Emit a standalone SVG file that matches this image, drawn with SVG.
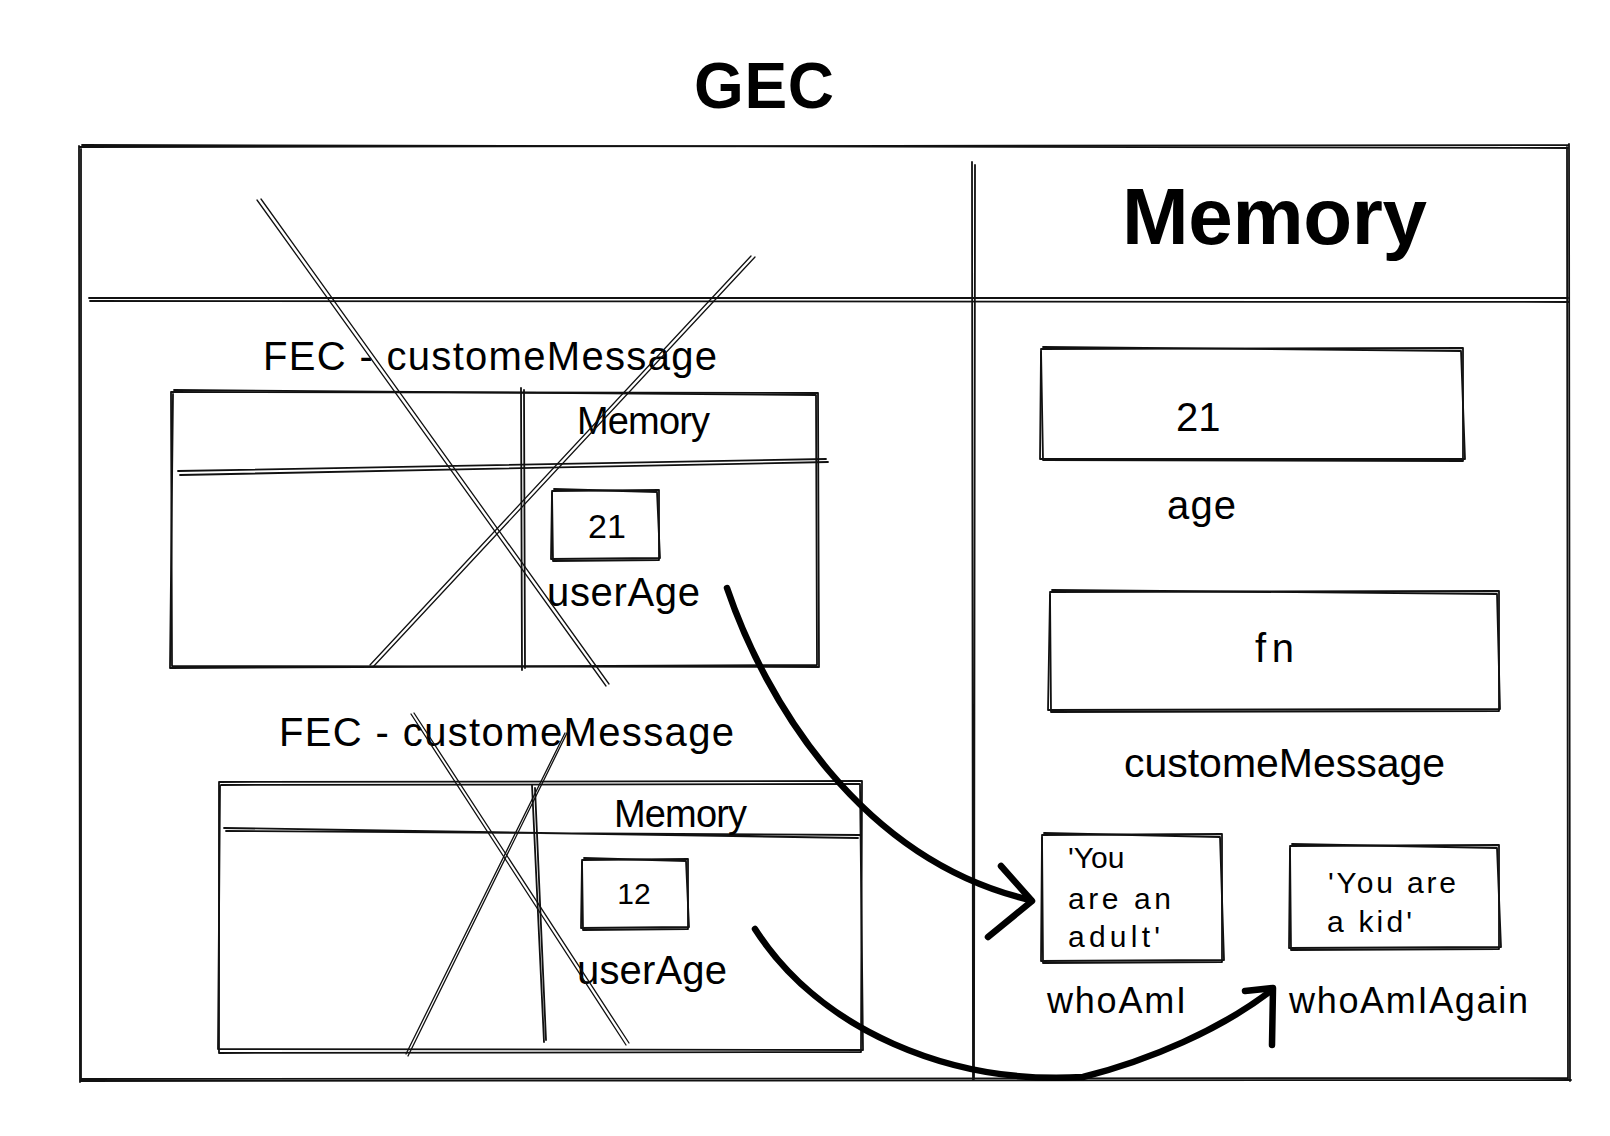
<svg xmlns="http://www.w3.org/2000/svg" width="1610" height="1136" viewBox="0 0 1610 1136">
<style>
.s{fill:none;stroke:#111;stroke-width:1.8;stroke-linecap:round;stroke-linejoin:round}
.x{fill:none;stroke:#111;stroke-width:1.3;stroke-linecap:round}
.a{fill:none;stroke:#000;stroke-width:6.5;stroke-linecap:round;stroke-linejoin:round}
text{font-family:"Liberation Sans","DejaVu Sans",sans-serif;fill:#000}
.b{font-weight:bold}
</style>
<rect width="1610" height="1136" fill="#fff"/>
<g id="gec-title"><text class="b" x="694" y="108" font-size="64" textLength="140">GEC</text></g>
<g id="gec-frame">
<path class="s" d="M79,147 L1569,145 M1569,144 L1570,1081 M1571,1080 L80,1081 M80,1082 L79,146"/>
<path class="s" d="M82,145 L1568,148 M1567,147 L1568,1079 M1568,1078 L82,1079 M81,1080 L81,149"/>
<path class="s" d="M89,298 L1568,298 M90,301 L1569,302"/>
<path class="s" d="M972,162 L973,1080 M975,165 L974,1079"/>
<text class="b" x="1122" y="244" font-size="80" textLength="305">Memory</text>
</g>
<g id="fec1">
<text x="263" y="370" font-size="40" textLength="454">FEC - customeMessage</text>
<path class="s" d="M171,392 L818,393 L819,667 L172,666 Z"/>
<path class="s" d="M174,390 L816,395 L817,665 L170,668 L173,394"/>
<path class="s" d="M521,388 L522,670 M524,390 L525,668"/>
<path class="s" d="M180,475 L828,462 M178,471 L826,459"/>
<text x="577" y="434" font-size="38" textLength="133">Memory</text>
<path class="s" d="M552,491 L659,490 L659,560 L553,561 Z"/>
<path class="s" d="M554,489 L657,492 L660,558 L551,559 L552,493"/>
<text x="607" y="538" font-size="34" text-anchor="middle">21</text>
<text x="547" y="606" font-size="40" textLength="153">userAge</text>
<path class="x" d="M257,200 L606,686 M261,199 L609,684"/>
<path class="x" d="M755,257 L373,667 M751,256 L370,665"/>
</g>
<g id="fec2">
<text x="279" y="746" font-size="40" textLength="455">FEC - customeMessage</text>
<path class="s" d="M219,782 L862,781 L861,1052 L219,1053 Z"/>
<path class="s" d="M221,785 L860,784 L863,1050 L218,1049 L220,786"/>
<path class="s" d="M532,785 L544,1042 M535,788 L546,1040"/>
<path class="s" d="M224,828 L858,838 M226,831 L860,835"/>
<text x="614" y="827" font-size="38" textLength="133">Memory</text>
<path class="s" d="M582,860 L688,859 L688,929 L583,930 Z"/>
<path class="s" d="M584,858 L686,861 L689,927 L581,928 L582,862"/>
<text x="634" y="904" font-size="30" text-anchor="middle">12</text>
<text x="577" y="984" font-size="40" textLength="150">userAge</text>
<path class="x" d="M411,714 L626,1045 M414,713 L629,1043"/>
<path class="x" d="M568,731 L408,1056 M565,733 L406,1054"/>
</g>
<g id="mem-age">
<path class="s" d="M1041,349 L1463,348 L1463,461 L1043,460 Z"/>
<path class="s" d="M1043,347 L1461,351 L1465,459 L1040,459 L1041,352"/>
<text x="1176" y="431" font-size="40">21</text>
<text x="1167" y="519" font-size="40" textLength="69">age</text>
</g>
<g id="mem-fn">
<path class="s" d="M1050,592 L1499,591 L1499,711 L1051,712 Z"/>
<path class="s" d="M1052,590 L1497,594 L1500,709 L1048,710 L1050,595"/>
<text x="1255" y="662" font-size="40" textLength="39">fn</text>
<text x="1124" y="777" font-size="41" textLength="321">customeMessage</text>
</g>
<g id="mem-adult">
<path class="s" d="M1042,835 L1222,834 L1222,962 L1043,963 Z"/>
<path class="s" d="M1044,833 L1220,837 L1224,960 L1041,961 L1042,838"/>
<text x="1068" y="868" font-size="30">'You</text>
<text x="1068" y="909" font-size="30" textLength="103">are an</text>
<text x="1068" y="947" font-size="30" textLength="92">adult'</text>
<text x="1047" y="1013" font-size="36" textLength="139">whoAmI</text>
</g>
<g id="mem-kid">
<path class="s" d="M1290,846 L1499,845 L1499,949 L1291,950 Z"/>
<path class="s" d="M1292,844 L1497,848 L1501,947 L1289,948 L1290,849"/>
<text x="1328" y="893" font-size="30" textLength="128">'You are</text>
<text x="1327" y="932" font-size="30" textLength="85">a kid'</text>
<text x="1289" y="1013" font-size="36" textLength="239">whoAmIAgain</text>
</g>
<g id="connectors">
<path class="a" d="M727,588 C765,700 860,860 1030,900"/>
<path class="a" d="M1001,866 L1032,901 L988,937"/>
<path class="a" d="M755,929 C820,1030 950,1085 1083,1077 C1150,1060 1220,1030 1272,990"/>
<path class="a" d="M1245,991 L1273,988 L1272,1045"/>
</g>
</svg>
